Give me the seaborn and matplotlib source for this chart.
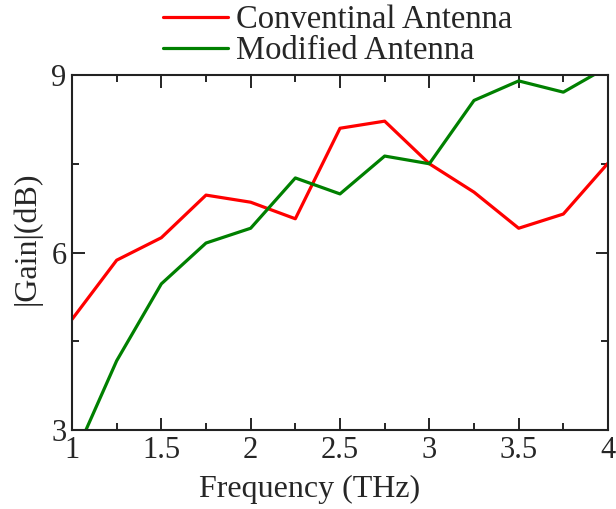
import numpy as np
import pandas as pd
import matplotlib
matplotlib.use("Agg")
import matplotlib.pyplot as plt
import seaborn as sns
from matplotlib.ticker import MultipleLocator
from matplotlib.lines import Line2D

freq = [1.0, 1.25, 1.5, 1.75, 2.0, 2.25, 2.5, 2.75, 3.0, 3.25, 3.5, 3.75, 4.0]
conventional = [4.87, 5.87, 6.25, 6.97, 6.85, 6.57, 8.10, 8.22, 7.50, 7.02, 6.41, 6.65, 7.51]
modified = [2.47, 4.17, 5.47, 6.16, 6.41, 7.26, 6.99, 7.63, 7.50, 8.57, 8.90, 8.71, 9.14]
series_names = ["Conventinal Antenna", "Modified Antenna"]
x_ticks = [1, 1.5, 2, 2.5, 3, 3.5, 4]
x_tick_labels = ["1", "1.5", "2", "2.5", "3", "3.5", "4"]
y_ticks = [3, 6, 9]
y_tick_labels = ["3", "6", "9"]

df = pd.DataFrame({
    "freq": freq * 2,
    "gain": conventional + modified,
    "series": [series_names[0]] * len(freq) + [series_names[1]] * len(freq),
})

sns.set_theme(style="ticks")
plt.rcParams["font.family"] = ["Liberation Serif", "DejaVu Serif"]

fig = plt.figure(figsize=(6.16, 5.09), dpi=100)
ax = fig.add_axes([72 / 616, 1 - 430 / 509, (608 - 72) / 616, (430 - 75) / 509])

colors = {series_names[0]: "#ff0000", series_names[1]: "#008000"}
sns.lineplot(data=df, x="freq", y="gain", hue="series", palette=colors,
             linewidth=2.3, ax=ax, legend=False)

ax.set_xlim(1, 4)
ax.set_ylim(3, 9)
ax.set_xticks(x_ticks)
ax.set_xticklabels(x_tick_labels)
ax.set_yticks(y_ticks)
ax.set_yticklabels(y_tick_labels)
ax.xaxis.set_minor_locator(MultipleLocator(0.25))
ax.yaxis.set_minor_locator(MultipleLocator(1.5))

ax.tick_params(which="major", direction="in", length=9, width=1.2, labelsize=22,
               top=True, right=True, color="black", pad=4)
ax.tick_params(which="minor", direction="in", length=5, width=1.2,
               top=True, right=True, color="black")
for sp in ax.spines.values():
    sp.set_linewidth(1.5)
    sp.set_color("#222222")

ax.set_xlabel("Frequency (THz)", fontsize=23)
ax.xaxis.set_label_coords((310 - 72) / 536, -(475 - 430) / 355)
ax.set_ylabel("|Gain|(dB)", fontsize=23)
ax.yaxis.set_label_coords(-0.056, (430 - 238) / 355)

handles = [Line2D([], [], color=colors[n], lw=2.3) for n in series_names]
leg = fig.legend(handles, series_names, loc="upper left",
                 bbox_to_anchor=(163 / 616, 1 - 5 / 509), frameon=False, fontsize=23.5,
                 handlelength=2.0, handletextpad=0.25, labelspacing=0.0,
                 borderaxespad=0, borderpad=0.0)

fig.savefig("out.png", dpi=100)
